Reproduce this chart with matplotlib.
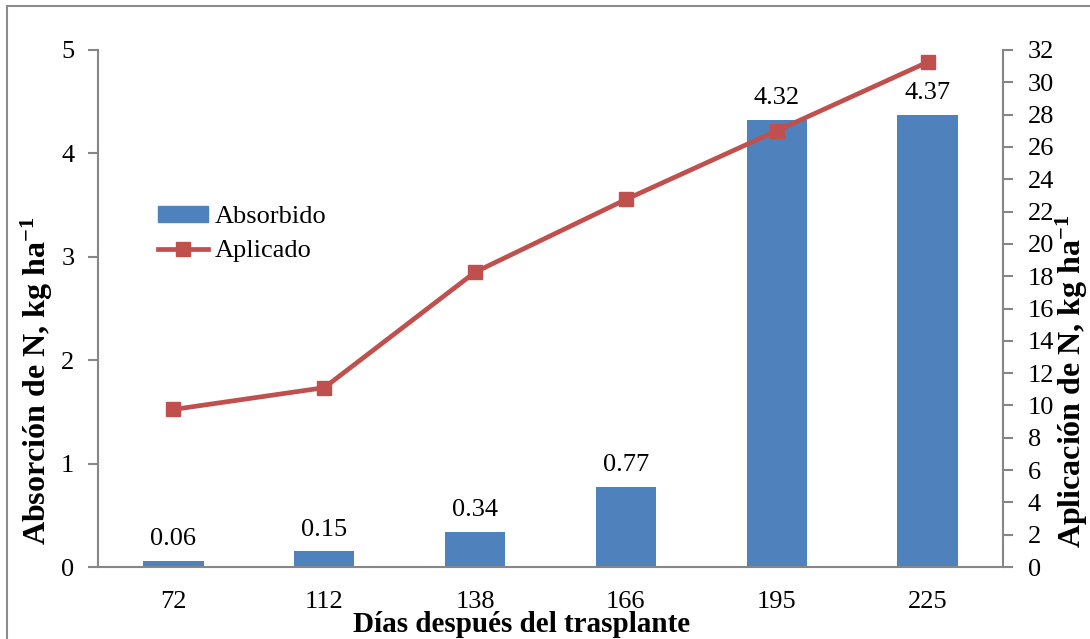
import matplotlib
matplotlib.use("Agg")
import matplotlib.pyplot as plt
from matplotlib.lines import Line2D

# Nitrogen absorbed by the crop vs. nitrogen applied, by days after transplanting
dias = ["72", "112", "138", "166", "195", "225"]
absorbido = [0.06, 0.15, 0.34, 0.77, 4.32, 4.37]
aplicado = [9.75, 11.1, 18.25, 22.75, 27.0, 31.25]

blue = "#4F81BD"
red = "#C0504D"
axis_gray = "#868686"

plt.rcParams["font.family"] = ["Liberation Serif", "DejaVu Serif"]
plt.rcParams["mathtext.fontset"] = "custom"
plt.rcParams["mathtext.rm"] = "Liberation Serif"
plt.rcParams["mathtext.bf"] = "Liberation Serif:bold"
plt.rcParams["mathtext.it"] = "Liberation Serif:italic"
fs = 19

fig = plt.figure(figsize=(10.9, 6.39), dpi=100)
ax = fig.add_axes([98 / 1090, 1 - 567 / 639, 905 / 1090, 517 / 639])
ax2 = ax.twinx()

x = list(range(len(dias)))
ax.bar(x, absorbido, width=0.4, color=blue, zorder=2)
for xi, v in zip(x, absorbido):
    ax.annotate(f"{v:.2f}", (xi, v), xytext=(0, 11.5), textcoords="offset points",
                ha="center", va="baseline", fontsize=fs)

ax2.plot(x, aplicado, color=red, lw=3.4, marker="s", ms=10.5,
         markerfacecolor=red, markeredgecolor=red, zorder=3)

ax.set_xlim(-0.5, len(dias) - 0.5)
ax.set_ylim(0, 5)
ax2.set_ylim(0, 32)
ax.set_yticks(range(0, 6))
ax2.set_yticks(range(0, 33, 2))
ax.set_xticks(x)
ax.set_xticklabels(dias)

for a in (ax, ax2):
    a.spines["top"].set_visible(False)
    for s in a.spines.values():
        s.set_color(axis_gray)
        s.set_linewidth(1.5)
ax.spines["right"].set_visible(False)
ax2.spines["left"].set_visible(False)
ax2.spines["bottom"].set_visible(False)

ax.tick_params(axis="y", direction="out", length=7, width=1.5, color=axis_gray,
               labelsize=fs, pad=10)
ax2.tick_params(axis="y", direction="out", length=7, width=1.5, color=axis_gray,
                labelsize=fs, pad=11)
ax.tick_params(axis="x", length=0, labelsize=fs, pad=17)

ax.set_xlabel("Días después del trasplante", fontsize=21, fontweight="bold")
ax.xaxis.set_label_coords(0.4685, -0.112)
ax.xaxis.label.set_va("center")
ax.set_ylabel("Absorción de N, kg ha$^{\\mathbf{-1}}$", fontsize=23, fontweight="bold")
ax.yaxis.set_label_coords(-0.067, 0.36)
ax.yaxis.label.set_va("center")
ax2.set_ylabel("Aplicación de N, kg ha$^{\\mathbf{-1}}$", fontsize=23, fontweight="bold",
               rotation=90)
ax2.yaxis.set_label_coords(1.076, 0.36)
ax2.yaxis.label.set_va("center")

handles = [
    plt.Rectangle((0, 0), 1, 1, color=blue),
    Line2D([], [], color=red, lw=3.4, marker="s", ms=10.5),
]
ax2.legend(handles, ["Absorbido", "Aplicado"], loc="upper left",
           bbox_to_anchor=(0.055, 0.719), frameon=False, fontsize=fs,
           handlelength=1.9, handleheight=0.55, handletextpad=0.25,
           labelspacing=0.45, borderaxespad=0)

# outer chart frame
fig.add_artist(Line2D([7 / 1090, 7 / 1090], [0, 1 - 6 / 639], color="#8C8C8C", lw=1.5,
                      transform=fig.transFigure))
fig.add_artist(Line2D([7 / 1090, 1], [1 - 6 / 639, 1 - 6 / 639], color="#8C8C8C", lw=1.5,
                      transform=fig.transFigure))

fig.savefig("out.png", dpi=100)
